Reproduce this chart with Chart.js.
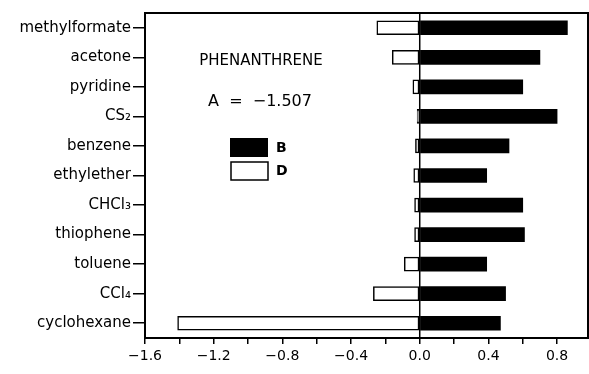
<!DOCTYPE html>
<html>
<head>
<meta charset="utf-8">
<script src="https://cdn.jsdelivr.net/npm/chart.js@4"></script>
<style>
  html, body { margin: 0; padding: 0; background: #fff; }
  #grafica { display: block; }
</style>
</head>
<body>
<canvas id="grafica" width="589" height="374"></canvas>
<script>
const solventes = ["methylformate", "acetone", "pyridine", "CS\u2082", "benzene", "ethylether",
  "CHCl\u2083", "thiophene", "toluene", "CCl\u2084", "cyclohexane"];
const valoresB = [0.86, 0.70, 0.60, 0.80, 0.52, 0.39, 0.60, 0.61, 0.39, 0.50, 0.47];
const valoresD = [-0.25, -0.16, -0.04, -0.015, -0.025, -0.035, -0.03, -0.03, -0.09, -0.27, -1.41];
const titulo = "PHENANTHRENE";
const textoA = "A  =  \u22121.507";

const fuente = "'DejaVu Sans', sans-serif";

// marco, linea del cero, titulo y leyenda
const marcoPlugin = {
  id: "marco",
  afterDatasetsDraw(chart) {
    const ctx = chart.ctx;
    const area = chart.chartArea;
    const x0 = chart.scales.x.getPixelForValue(0);
    ctx.save();
    ctx.strokeStyle = "#000";
    ctx.lineWidth = 1.5;
    ctx.beginPath();
    ctx.moveTo(x0, area.top);
    ctx.lineTo(x0, area.bottom);
    ctx.stroke();
    ctx.lineWidth = 2;
    ctx.strokeRect(area.left, area.top, area.right - area.left, area.bottom - area.top);

    ctx.fillStyle = "#000";
    ctx.textBaseline = "middle";
    ctx.textAlign = "center";
    ctx.font = "15px " + fuente;
    ctx.fillText(titulo, 261, 61);
    ctx.font = "16px " + fuente;
    ctx.fillText(textoA, 260, 102);

    // leyenda
    ctx.fillRect(230, 138, 38, 19);
    ctx.lineWidth = 1.5;
    ctx.fillStyle = "#fff";
    ctx.fillRect(231, 162, 37, 18);
    ctx.strokeRect(231, 162, 37, 18);
    ctx.fillStyle = "#000";
    ctx.textAlign = "left";
    ctx.font = "bold 14px " + fuente;
    ctx.fillText("B", 276, 148);
    ctx.fillText("D", 276, 171);
    ctx.restore();
  }
};

function etiquetaX(value) {
  const v = Math.round(value * 10) / 10;
  if (Math.round(v * 10) % 4 !== 0) return "";
  return (v < 0 ? "\u2212" : "") + Math.abs(v).toFixed(1);
}

const configuracion = {
  type: "bar",
  data: {
    labels: solventes,
    datasets: [
      {
        label: "B",
        data: valoresB,
        backgroundColor: "#000",
        borderColor: "#000",
        borderWidth: 0,
        barThickness: 14
      },
      {
        label: "D",
        data: valoresD,
        backgroundColor: "#fff",
        borderColor: "#000",
        borderWidth: 1.5,
        borderSkipped: false,
        barThickness: 14
      }
    ]
  },
  options: {
    indexAxis: "y",
    responsive: false,
    animation: false,
    layout: { padding: { top: 13, right: 1, left: 0, bottom: 0 } },
    plugins: {
      legend: { display: false },
      tooltip: { enabled: false }
    },
    scales: {
      x: {
        stacked: true,
        min: -1.6,
        max: 0.98,
        border: { display: false },
        grid: { drawOnChartArea: false, drawTicks: true, tickLength: 6, color: "#000", lineWidth: 1.5 },
        ticks: {
          stepSize: 0.2,
          includeBounds: false,
          autoSkip: false,
          maxRotation: 0,
          color: "#000",
          padding: 4,
          font: { family: fuente, size: 14 },
          callback: etiquetaX
        },
        afterFit(scale) { scale.height = 36; }
      },
      y: {
        stacked: true,
        border: { display: false },
        grid: { offset: false, drawOnChartArea: false, drawTicks: true, tickLength: 12, color: "#000", lineWidth: 1.5 },
        ticks: {
          color: "#000",
          padding: 2,
          font: { family: fuente, size: 15 }
        },
        afterFit(scale) { scale.width = 145; }
      }
    }
  },
  plugins: [marcoPlugin]
};

const grafica = new Chart(document.querySelector("#grafica"), configuracion);
</script>
</body>
</html>
